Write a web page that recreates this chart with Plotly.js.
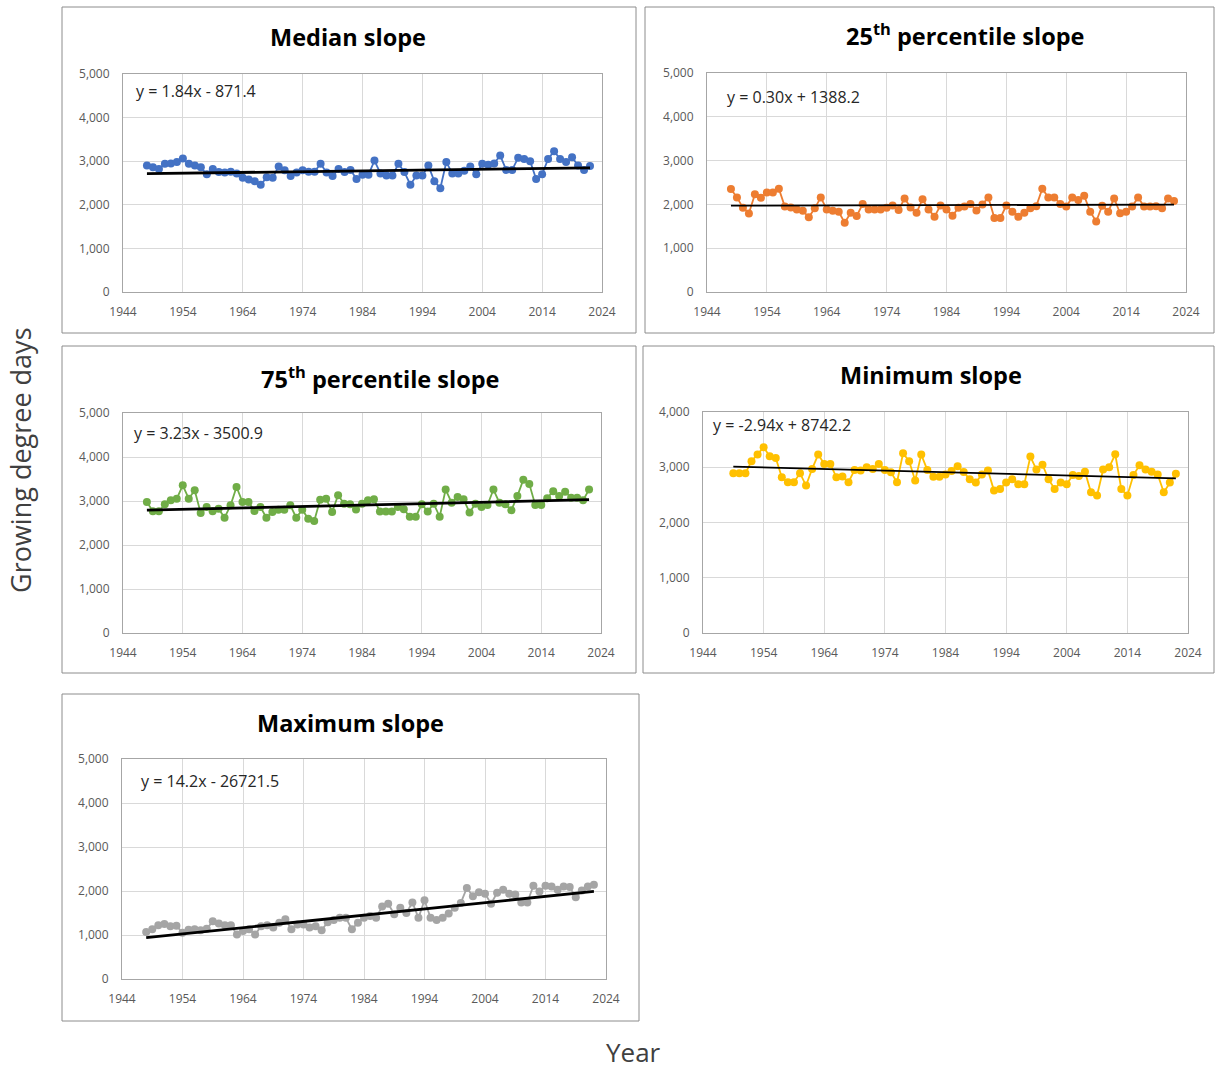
<!DOCTYPE html>
<html><head><meta charset="utf-8">
<script src="https://cdn.plot.ly/plotly-3.0.1.min.js"></script>
<style>html,body{margin:0;padding:0;background:#fff}</style>
</head><body><div id="chart" style="width:1215px;height:1070px"></div>
<script>
// ---------- data ----------
const years = [1948,1949,1950,1951,1952,1953,1954,1955,1956,1957,
  1958,1959,1960,1961,1962,1963,1964,1965,1966,1967,
  1968,1969,1970,1971,1972,1973,1974,1975,1976,1977,
  1978,1979,1980,1981,1982,1983,1984,1985,1986,1987,
  1988,1989,1990,1991,1992,1993,1994,1995,1996,1997,
  1998,1999,2000,2001,2002,2003,2004,2005,2006,2007,
  2008,2009,2010,2011,2012,2013,2014,2015,2016,2017,
  2018,2019,2020,2021,2022];
const yearsMin = years.slice(1); // minimum series starts in 1949

const medianGDD = [2900,2860,2820,2940,2950,2980,3060,2940,2900,2860,
  2700,2820,2750,2740,2760,2720,2620,2580,2540,2460,
  2630,2620,2880,2790,2660,2740,2790,2760,2760,2940,
  2740,2660,2820,2750,2800,2590,2690,2690,3015,2720,
  2670,2670,2940,2750,2460,2670,2670,2900,2540,2380,
  2980,2720,2720,2780,2880,2700,2940,2920,2950,3130,
  2800,2800,3080,3050,3000,2590,2700,3050,3230,3050,
  2980,3090,2900,2800,2890];
const p25GDD = [2350,2160,1925,1795,2230,2150,2270,2270,2360,1950,
  1930,1886,1855,1705,1910,2160,1886,1855,1830,1580,
  1810,1735,2008,1886,1886,1886,1925,1977,1870,2137,
  1930,1810,2120,1886,1720,1977,1886,1740,1925,1950,
  2010,1860,2000,2160,1690,1690,1977,1835,1720,1810,
  1910,1960,2360,2160,2160,2008,1950,2160,2100,2195,
  1835,1610,1970,1835,2135,1797,1835,1950,2160,1950,
  1950,1960,1910,2135,2080];
const p75GDD = [2977,2765,2765,2924,3015,3053,3356,3053,3242,2727,
  2864,2765,2826,2621,2901,3318,2977,2977,2773,2864,
  2621,2750,2803,2803,2901,2621,2803,2598,2545,3030,
  3053,2750,3129,2940,2924,2806,2940,3015,3037,2761,
  2761,2761,2866,2813,2642,2642,2925,2761,2940,2642,
  3261,2963,3090,3037,2739,2940,2866,2910,3261,2963,
  2925,2791,3112,3485,3388,2910,2910,3060,3224,3112,
  3209,3075,3075,3015,3261];
const minGDD = [2892,2892,2892,3108,3229,3361,3199,3169,2819,2729,
  2729,2892,2669,2970,3229,3060,3060,2819,2831,2729,
  2952,2940,3000,2970,3060,2952,2910,2729,3253,3108,
  2759,3229,2952,2830,2830,2870,2930,3018,2912,2782,
  2724,2870,2941,2577,2606,2724,2782,2694,2694,3194,
  2959,3047,2782,2606,2724,2694,2859,2841,2918,2547,
  2488,2959,3000,3235,2606,2488,2859,3035,2959,2918,
  2870,2547,2724,2882];
const maxGDD = [1070,1130,1220,1250,1200,1210,1050,1120,1130,1110,
  1140,1310,1260,1220,1220,1010,1090,1130,1010,1200,
  1220,1170,1280,1360,1130,1240,1240,1170,1200,1110,
  1290,1340,1390,1390,1130,1280,1390,1430,1390,1650,
  1710,1470,1620,1500,1740,1390,1790,1390,1340,1390,
  1490,1620,1730,2070,1880,1970,1940,1710,1960,2030,
  1940,1920,1740,1740,2120,1990,2120,2100,2030,2100,
  2090,1860,2010,2100,2140];

const panelTitles = ['Median slope','25<sup>th</sup> percentile slope','75<sup>th</sup> percentile slope','Minimum slope','Maximum slope'];
const equations = ['y = 1.84x - 871.4','y = 0.30x + 1388.2','y = 3.23x - 3500.9','y = -2.94x + 8742.2','y = 14.2x - 26721.5'];
const trendSlope = [1.84, 0.30, 3.23, -2.94, 14.2];
const trendIntercept = [-871.4, 1388.2, -3500.9, 8742.2, -26721.5];
const xTickVals = [1944,1954,1964,1974,1984,1994,2004,2014,2024];
const yTopValues = [5000,5000,5000,4000,5000];
const yAxisTitle = 'Growing degree days';
const xAxisTitle = 'Year';

// ---------- layout / styling ----------
const W = 1215, H = 1070;
const series = [
  {x: years, y: medianGDD, color: '#4472C4', trendW: 2.8},
  {x: years, y: p25GDD, color: '#ED7D31', trendW: 1.8},
  {x: years, y: p75GDD, color: '#70AD47', trendW: 2.8},
  {x: yearsMin, y: minGDD, color: '#FFC000', trendW: 1.8},
  {x: years, y: maxGDD, color: '#A5A5A5', trendW: 2.8}
];
// pixel geometry: plot area [x0,x1,y0,y1], panel box [x0,y0,x1,y1], title centre, equation left/centre-y
const geo = [
  {plot:[123,602,74,292], box:[62,7,636,333], title:[348,37], eq:[134,91]},
  {plot:[707,1186,73,292], box:[645,7,1214,333], title:[965,35], eq:[725,97]},
  {plot:[123,601,413,633], box:[62,346,636,673], title:[380,377], eq:[132,433]},
  {plot:[703,1188,412,633], box:[643,346,1214,673], title:[931,375], eq:[711,425]},
  {plot:[122,606,759,979], box:[62,694,639,1021], title:[350,723], eq:[139,781]}
];
const px = v => v / W;
const py = v => 1 - v / H;
const FONT = 'Open Sans, Liberation Sans, Arial, sans-serif';

const data = [];
const layout = {
  width: W, height: H, margin: {l:0, r:0, t:0, b:0},
  paper_bgcolor: '#ffffff', plot_bgcolor: '#ffffff',
  showlegend: false, font: {family: FONT, color: '#595959'},
  shapes: [], annotations: []
};

series.forEach((s, i) => {
  const n = i === 0 ? '' : String(i + 1);
  const xa = 'x' + n, ya = 'y' + n;
  data.push({
    x: s.x, y: s.y, xaxis: xa, yaxis: ya, type: 'scatter', mode: 'lines+markers',
    line: {color: s.color, width: 1.8},
    marker: {color: s.color, size: 8},
    hoverinfo: 'x+y'
  });
  const tx = [s.x[0], s.x[s.x.length - 1]];
  data.push({
    x: tx, y: tx.map(v => trendSlope[i] * v + trendIntercept[i]),
    xaxis: xa, yaxis: ya, type: 'scatter', mode: 'lines',
    line: {color: '#000000', width: s.trendW}, hoverinfo: 'skip'
  });
  const g = geo[i];
  layout['xaxis' + n] = {
    domain: [px(g.plot[0]), px(g.plot[1])], anchor: ya,
    range: [1944, 2024], tickvals: xTickVals, ticks: '',
    showgrid: true, gridcolor: '#d9d9d9', gridwidth: 1,
    showline: true, linecolor: '#a6a6a6', linewidth: 1, mirror: true,
    zeroline: false, tickfont: {size: 12, color: '#595959', family: FONT},
    ticklabelstandoff: 9, fixedrange: true
  };
  layout['yaxis' + n] = {
    domain: [py(g.plot[3]), py(g.plot[2])], anchor: xa,
    range: [0, yTopValues[i]], dtick: 1000, tickformat: ',d', ticks: '',
    showgrid: true, gridcolor: '#d9d9d9', gridwidth: 1,
    showline: true, linecolor: '#a6a6a6', linewidth: 1, mirror: true,
    zeroline: false, tickfont: {size: 12, color: '#595959', family: FONT},
    ticklabelstandoff: 10, fixedrange: true
  };
  layout.shapes.push({
    type: 'rect', xref: 'paper', yref: 'paper',
    x0: px(g.box[0]), x1: px(g.box[2]), y0: py(g.box[3]), y1: py(g.box[1]),
    line: {color: '#8c8c8c', width: 1}, fillcolor: 'rgba(0,0,0,0)', layer: 'below'
  });
  layout.annotations.push({
    xref: 'paper', yref: 'paper', x: px(g.title[0]), y: py(g.title[1]),
    xanchor: 'center', yanchor: 'middle', showarrow: false,
    text: '<b>' + panelTitles[i] + '</b>',
    font: {size: 23.5, color: '#000000', family: FONT}
  });
  layout.annotations.push({
    xref: 'paper', yref: 'paper', x: px(g.eq[0]), y: py(g.eq[1]),
    xanchor: 'left', yanchor: 'middle', showarrow: false,
    text: equations[i], font: {size: 16, color: '#262626', family: FONT}
  });
});

layout.annotations.push({
  xref: 'paper', yref: 'paper', x: px(20), y: py(460), textangle: -90,
  xanchor: 'center', yanchor: 'middle', showarrow: false,
  text: yAxisTitle, font: {size: 27, color: '#404040', family: FONT}
});
layout.annotations.push({
  xref: 'paper', yref: 'paper', x: px(633), y: py(1052),
  xanchor: 'center', yanchor: 'middle', showarrow: false,
  text: xAxisTitle, font: {size: 26, color: '#404040', family: FONT}
});

Plotly.newPlot('chart', data, layout, {displayModeBar: false, staticPlot: true});
</script>
</body></html>
